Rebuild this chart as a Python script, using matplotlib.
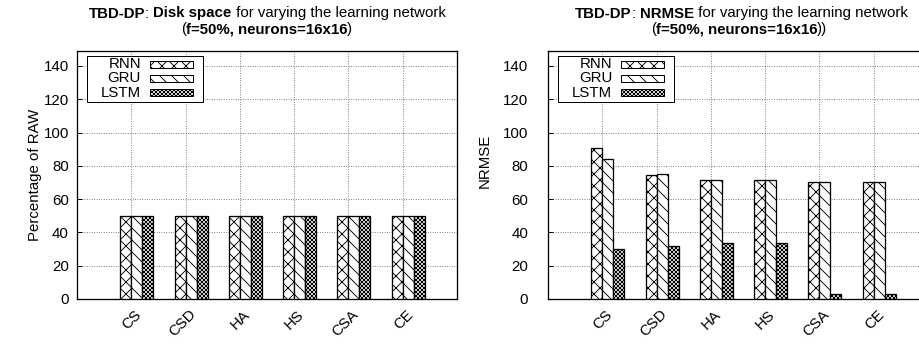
import matplotlib
matplotlib.use("Agg")
import matplotlib.pyplot as plt
from matplotlib.patches import Rectangle
from matplotlib.transforms import ScaledTranslation

# ---- data -------------------------------------------------------------
categories = ["CS", "CSD", "HA", "HS", "CSA", "CE"]
networks = ["RNN", "GRU", "LSTM"]

disk_rnn = [50, 50, 50, 50, 50, 50]
disk_gru = [50, 50, 50, 50, 50, 50]
disk_lstm = [50, 50, 50, 50, 50, 50]

nrmse_rnn = [90.6, 74.3, 71.2, 71.2, 70.4, 70.4]
nrmse_gru = [84.1, 74.9, 71.2, 71.2, 70.4, 70.4]
nrmse_lstm = [29.9, 31.7, 33.7, 33.5, 2.8, 2.8]

yticks = [0, 20, 40, 60, 80, 100, 120, 140]

# ---- style ------------------------------------------------------------
DPI = 72
W, H = 919, 343
FONT = "Liberation Sans"
FS = 15
plt.rcParams["font.family"] = [FONT, "DejaVu Sans"]
plt.rcParams["hatch.linewidth"] = 0.9
plt.rcParams["hatch.color"] = "black"

hatches = ["xx", "\\\\", "xxxxxx"]
BW = 0.203  # bar width in category units

fig = plt.figure(figsize=(W / DPI, H / DPI), dpi=DPI)

AX_W, AX_H = 380, 248
AX_TOP = 51


def make_axes(left_px):
    return fig.add_axes([left_px / W, (H - AX_TOP - AX_H) / H, AX_W / W, AX_H / H])


def draw_panel(ax, series, ylabel, label_pad, ylabel_xy):
    x = list(range(len(categories)))
    for j, (vals, hatch) in enumerate(zip(series, hatches)):
        xs = [i + (j - 1) * BW for i in x]
        ax.bar(xs, vals, width=BW, align="edge", color="white",
               edgecolor="black", linewidth=1.3, hatch=hatch, zorder=3)
    ax.set_xlim(-1, 6)
    ax.set_ylim(0, 149)
    ax.set_yticks(yticks)
    ax.set_axisbelow(True)
    ax.grid(True, linestyle=(0, (1, 2)), color="#444444", linewidth=0.8)
    for s in ax.spines.values():
        s.set_linewidth(1.3)
    ax.tick_params(axis="y", direction="in", length=5, width=1,
                   labelsize=FS, pad=label_pad)
    ax.tick_params(axis="x", length=0, labelsize=FS, pad=13)
    ax.set_xticks(x)
    ax.set_xticklabels(categories, rotation=45, ha="right", va="center",
                       rotation_mode="anchor")
    shift = ScaledTranslation(8 / DPI, 0, fig.dpi_scale_trans)
    for lab in ax.get_xticklabels():
        lab.set_transform(lab.get_transform() + shift)
    fig.text(ylabel_xy[0] / W, 1 - ylabel_xy[1] / H, ylabel, rotation=90,
             ha="center", va="center", fontsize=FS)

    # legend: labels right-aligned, hatched swatches to the right
    def fx(px):
        return px / AX_W

    def fy(py):
        return 1 - py / AX_H

    box = Rectangle((fx(9.5), fy(51)), fx(116), 46 / AX_H,
                    transform=ax.transAxes, facecolor="white",
                    edgecolor="black", linewidth=1.0, zorder=10, clip_on=False)
    ax.add_patch(box)
    for k, (name, hatch) in enumerate(zip(networks, hatches)):
        cy = 13 + 14.3 * k
        ax.text(fx(64), fy(cy), name, transform=ax.transAxes, ha="right",
                va="center", fontsize=FS, zorder=11)
        sw = Rectangle((fx(73), fy(cy + 3.5)), fx(43), 7 / AX_H,
                       transform=ax.transAxes, facecolor="white",
                       edgecolor="black", linewidth=1.0, hatch=hatch,
                       zorder=11, clip_on=False)
        ax.add_patch(sw)


def rich_line(xc_px, ybase_px, pieces):
    renderer = fig.canvas.get_renderer()
    texts = []
    for s, wgt in pieces:
        t = fig.text(0, 1 - ybase_px / H, s, fontsize=FS, fontweight=wgt,
                     ha="left", va="baseline")
        texts.append(t)
    widths = [t.get_window_extent(renderer).width for t in texts]
    x = xc_px - sum(widths) / 2
    for t, w in zip(texts, widths):
        t.set_x(x / W)
        x += w


ax1 = make_axes(77)
draw_panel(ax1, [disk_rnn, disk_gru, disk_lstm], "Percentage of RAW", 8, (35, 175))
ax2 = make_axes(548)
draw_panel(ax2, [nrmse_rnn, nrmse_gru, nrmse_lstm], "NRMSE", 20, (485, 161))

rich_line(267, 17.5, [("TBD-DP", "bold"), (": ", "normal"), ("Disk space", "bold"),
                      (" for varying the learning network", "normal")])
rich_line(266.5, 33.5, [("(", "normal"), ("f=50%, neurons=16x16", "bold"), (")", "normal")])
rich_line(741.5, 17.5, [("TBD-DP", "bold"), (": ", "normal"), ("NRMSE", "bold"),
                        (" for varying the learning network", "normal")])
rich_line(739, 33.5, [("(", "normal"), ("f=50%, neurons=16x16", "bold"), ("))", "normal")])

fig.savefig("out.png", dpi=DPI)
